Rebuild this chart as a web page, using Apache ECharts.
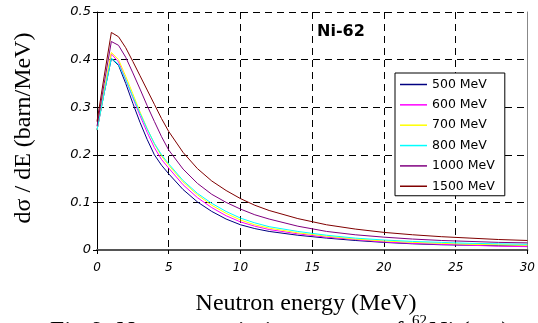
<!DOCTYPE html>
<html>
<head>
<meta charset="utf-8">
<script src="https://cdn.jsdelivr.net/npm/echarts@6/dist/echarts.min.js"></script>
<style>
  html, body { margin: 0; padding: 0; background: #fff; }
  #chart { width: 538px; height: 323px; }
</style>
</head>
<body>
<div id="chart"></div>
<script>
  // neutron energy (MeV)
  var energy = [0, 0.5, 1, 1.5, 2, 2.5, 3, 3.5, 4, 4.5, 5, 6, 7, 8, 9, 10, 11, 12, 14, 16, 18, 20, 22, 24, 26, 28, 30]
  // dσ/dE (barn/MeV) per beam energy
  var mev500 = [0.252, 0.33, 0.402, 0.388, 0.35, 0.308, 0.268, 0.232, 0.2, 0.178, 0.16, 0.127, 0.101, 0.081, 0.065, 0.053, 0.045, 0.039, 0.031, 0.025, 0.02, 0.016, 0.013, 0.011, 0.01, 0.009, 0.008]
  var mev600 = [0.252, 0.333, 0.412, 0.395, 0.358, 0.32, 0.282, 0.247, 0.215, 0.19, 0.172, 0.137, 0.11, 0.089, 0.072, 0.059, 0.05, 0.043, 0.034, 0.027, 0.022, 0.017, 0.014, 0.012, 0.01, 0.008, 0.007]
  var mev700 = [0.252, 0.335, 0.415, 0.4, 0.365, 0.328, 0.29, 0.255, 0.223, 0.197, 0.178, 0.143, 0.116, 0.094, 0.077, 0.063, 0.053, 0.046, 0.036, 0.029, 0.023, 0.019, 0.016, 0.014, 0.012, 0.011, 0.01]
  var mev800 = [0.252, 0.33, 0.403, 0.39, 0.358, 0.322, 0.287, 0.254, 0.224, 0.2, 0.181, 0.146, 0.119, 0.098, 0.081, 0.067, 0.057, 0.049, 0.039, 0.031, 0.025, 0.021, 0.018, 0.016, 0.014, 0.013, 0.012]
  var mev1000 = [0.26, 0.35, 0.438, 0.43, 0.405, 0.372, 0.338, 0.303, 0.27, 0.238, 0.21, 0.17, 0.14, 0.117, 0.1, 0.086, 0.074, 0.065, 0.05, 0.039, 0.032, 0.027, 0.023, 0.02, 0.018, 0.016, 0.015]
  var mev1500 = [0.27, 0.365, 0.457, 0.448, 0.425, 0.396, 0.366, 0.336, 0.306, 0.276, 0.249, 0.205, 0.171, 0.145, 0.125, 0.108, 0.094, 0.083, 0.066, 0.053, 0.044, 0.037, 0.032, 0.028, 0.025, 0.022, 0.02]

  var names = ['500 MeV', '600 MeV', '700 MeV', '800 MeV', '1000 MeV', '1500 MeV']
  var colors = ['#000080', '#ff00ff', '#ffff00', '#00ffff', '#800080', '#800000']
  var values = [mev500, mev600, mev700, mev800, mev1000, mev1500]

  var dashed = { color: '#000', width: 1, type: [7, 5] }

  var series = names.map(function (name, i) {
    return {
      name: name,
      type: 'line',
      showSymbol: false,
      symbol: 'none',
      lineStyle: { color: colors[i], width: 1 },
      itemStyle: { color: colors[i] },
      data: energy.map(function (e, k) { return [e, values[i][k]] })
    }
  })

  var option = {
    animation: false,
    backgroundColor: '#fff',
    grid: { left: 97, right: 9, top: 12, bottom: 73 },
    legend: {
      orient: 'vertical',
      left: 395,
      top: 73,
      data: names,
      icon: 'rect',
      itemWidth: 27,
      itemHeight: 1.5,
      itemGap: 7.35,
      padding: [5, 10, 3, 5],
      backgroundColor: '#fff',
      borderColor: '#000',
      borderWidth: 1,
      textStyle: { fontFamily: 'DejaVu Sans', fontSize: 12.5, color: '#000' }
    },
    xAxis: {
      type: 'value',
      min: 0,
      max: 30,
      interval: 5,
      axisLine: { onZero: false, lineStyle: { color: '#555', width: 2 } },
      axisTick: { show: true, inside: false, length: 4, lineStyle: { color: '#000' } },
      axisLabel: { margin: 12, fontFamily: 'DejaVu Sans', fontStyle: 'italic', fontSize: 12, color: '#000' },
      splitLine: { show: true, lineStyle: dashed }
    },
    yAxis: [
      {
        type: 'value',
        min: 0,
        max: 0.5,
        interval: 0.1,
        axisLine: { show: true, lineStyle: { color: '#000', width: 1 } },
        axisTick: { show: true, inside: false, length: 4, lineStyle: { color: '#000' } },
        axisLabel: { margin: 6, fontFamily: 'DejaVu Sans', fontStyle: 'italic', fontSize: 13, color: '#000' },
        splitLine: { show: true, lineStyle: dashed }
      },
      {
        type: 'value',
        position: 'right',
        min: 0,
        max: 0.5,
        interval: 0.1,
        axisLine: { show: true, lineStyle: { color: '#888', width: 1 } },
        axisTick: { show: false },
        axisLabel: { show: false },
        splitLine: { show: false }
      }
    ],
    graphic: [
      {
        type: 'text', x: 317, y: 32,
        style: { text: 'Ni-62', fontFamily: 'DejaVu Sans', fontWeight: 'bold', fontSize: 16, fill: '#000', verticalAlign: 'middle' }
      },
      {
        type: 'text', x: 24, y: 128, rotation: Math.PI / 2,
        style: { text: 'dσ / dE (barn/MeV)', fontFamily: 'Liberation Serif', fontSize: 24, fill: '#000', align: 'center', verticalAlign: 'middle' }
      },
      {
        type: 'text', x: 306, y: 304,
        style: { text: 'Neutron energy (MeV)', fontFamily: 'Liberation Serif', fontSize: 24, fill: '#000', align: 'center', verticalAlign: 'middle' }
      },
      {
        type: 'text', x: 50, y: 332,
        style: { text: 'Fig.9: Neutron emission spectra of ', fontFamily: 'Liberation Serif', fontSize: 25.5, fill: '#000', verticalAlign: 'middle' }
      },
      {
        type: 'text', x: 412, y: 321,
        style: { text: '62', fontFamily: 'Liberation Serif', fontSize: 15, fill: '#000', verticalAlign: 'middle' }
      },
      {
        type: 'text', x: 429, y: 332,
        style: { text: 'Ni (p,n)', fontFamily: 'Liberation Serif', fontSize: 25.5, fill: '#000', verticalAlign: 'middle' }
      }
    ],
    series: series
  }

  var chart = echarts.init(document.getElementById('chart'))
  chart.setOption(option)
  window.addEventListener('resize', function () {
    chart.resize()
  })
</script>
</body>
</html>
